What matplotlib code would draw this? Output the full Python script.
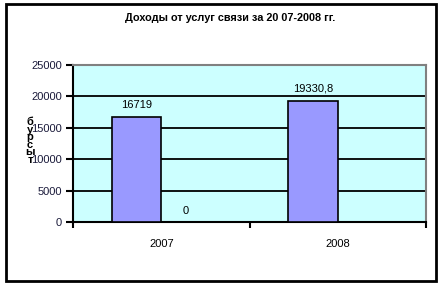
import numpy as np
import matplotlib.pyplot as plt
from matplotlib.patches import Rectangle

plt.rcParams['font.family'] = ['Liberation Sans', 'DejaVu Sans']

years = ['2007', '2008']
series1 = [16719, 19330.8]
series2 = [0, np.nan]
labels1 = ['16719', '19330,8']
labels2 = ['0', '']
yticks = [0, 5000, 10000, 15000, 20000, 25000]

fig = plt.figure(figsize=(4.4, 2.85), dpi=100)
fig.patches.append(Rectangle((6 / 440, 4 / 285), 430 / 440, 277 / 285, transform=fig.transFigure,
                             facecolor='none', edgecolor='black', linewidth=2))

ax = fig.add_axes([73 / 440, 63 / 285, 353 / 440, 157 / 285])
ax.set_facecolor('#CCFFFF')

x = np.arange(len(years))
w = 0.28
ax.bar(x - w / 2, series1, width=w, color='#9999FF', edgecolor='black', linewidth=1.2, zorder=3)
ax.bar(x + w / 2, series2, width=w, color='#FF99CC', edgecolor='black', linewidth=1.2, zorder=3)

for i in range(len(years)):
    ax.annotate(labels1[i], (x[i] - w / 2, series1[i]), xytext=(0, 12), textcoords='offset pixels',
                ha='center', va='center', fontsize=8)
    if labels2[i]:
        ax.annotate(labels2[i], (x[i] + w / 2, 0), xytext=(0, 11), textcoords='offset pixels',
                    ha='center', va='center', fontsize=8)

ax.set_xlim(-0.5, 1.5)
ax.set_ylim(0, 25000)
ax.set_yticks(yticks)
ax.set_yticklabels([str(t) for t in yticks], fontsize=8, color='#1a1a3a')
ax.yaxis.grid(True, color='black', linewidth=1.3, zorder=1)
ax.set_axisbelow(True)

ax.set_xticks(x)
ax.set_xticklabels(years, fontsize=8)
ax.set_xticks([-0.5, 0.5, 1.5], minor=True)
ax.tick_params(axis='x', which='major', length=0, pad=12)
ax.tick_params(axis='x', which='minor', length=4, width=1.5, direction='out')
ax.tick_params(axis='y', length=5, width=1.5, direction='out', pad=3)

ax.spines['left'].set_linewidth(1.5)
ax.spines['bottom'].set_linewidth(1.5)
ax.spines['top'].set_color('#808080')
ax.spines['right'].set_color('#808080')
ax.spines['top'].set_linewidth(1.5)
ax.spines['right'].set_linewidth(1.5)

fig.text(230 / 440, 1 - 18 / 285, 'Доходы от услуг связи за 20 07-2008 гг.', ha='center', va='center',
         fontsize=7.8, fontweight='bold')
fig.text(30 / 440, 1 - 141 / 285, 'б\nу\nр\nс\nы\nт', ha='center', va='center', fontsize=8,
         fontweight='bold', linespacing=0.68)

fig.savefig('out.png', dpi=100)
